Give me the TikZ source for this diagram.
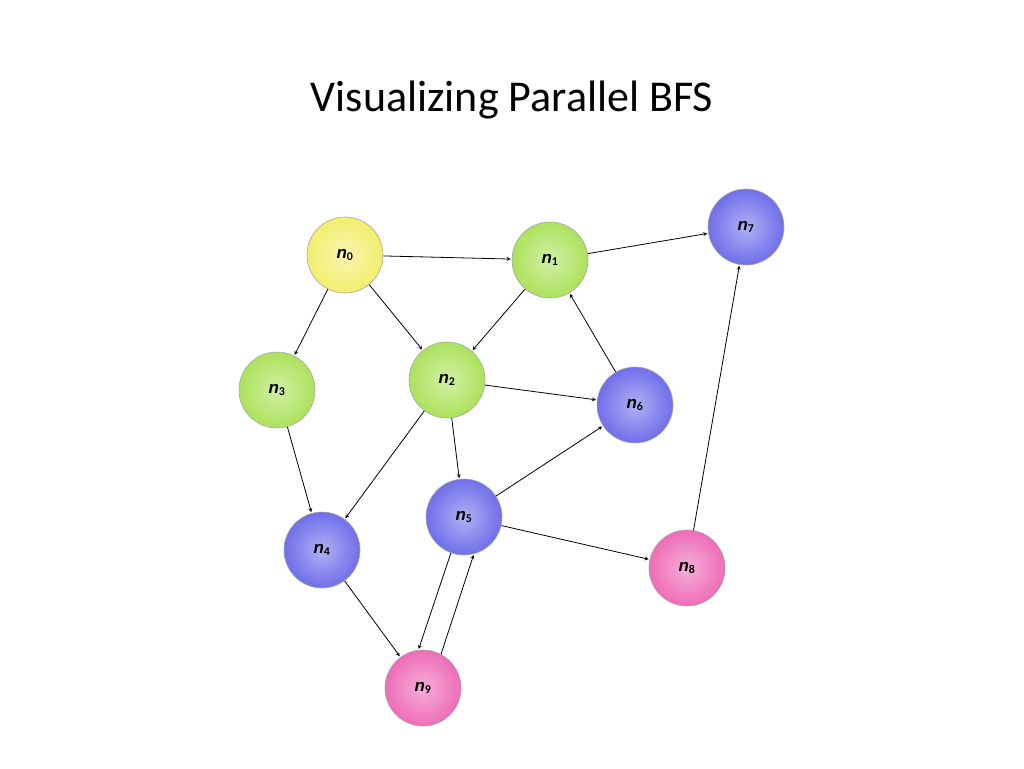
\documentclass[tikz,border=0pt]{standalone}
\usepackage{fontspec}
\setmainfont{Carlito}
\newfontfamily\lbl{Liberation Sans}
\begin{document}
\begin{tikzpicture}[x=1pt,y=-1pt,
  nd/.style={circle,minimum size=76pt,inner sep=0pt,draw=black!35,line width=0.6pt,
    inner color=white!45!#1,outer color=#1,font=\lbl\bfseries\itshape\fontsize{17}{20}\selectfont},
  ar/.style={->,>=stealth,line width=0.8pt,shorten >=1pt}]
\definecolor{cy}{HTML}{F2EE6E}
\definecolor{cg}{HTML}{ACE25C}
\definecolor{cb}{HTML}{6F6FEA}
\definecolor{cp}{HTML}{EE6CB8}
\useasboundingbox (0,0) rectangle (1024,768);
\node[font=\fontsize{44}{50}\selectfont] (t) at (512,100) {Visualizing Parallel BFS};
\node[nd=cy] (n0) at (345,255) {n$_{\mathbf 0}$};
\node[nd=cg] (n1) at (550,260) {n$_{\mathbf 1}$};
\node[nd=cb] (n7) at (746,227) {n$_{\mathbf 7}$};
\node[nd=cg] (n3) at (277,390) {n$_{\mathbf 3}$};
\node[nd=cg] (n2) at (447,380) {n$_{\mathbf 2}$};
\node[nd=cb] (n6) at (635,405) {n$_{\mathbf 6}$};
\node[nd=cb] (n5) at (464,517) {n$_{\mathbf 5}$};
\node[nd=cb] (n4) at (322,550) {n$_{\mathbf 4}$};
\node[nd=cp] (n8) at (687,568) {n$_{\mathbf 8}$};
\node[nd=cp] (n9) at (423,688) {n$_{\mathbf 9}$};
\draw[ar] (n0) -- (n1);
\draw[ar] (n0) -- (n3);
\draw[ar] (n0) -- (n2);
\draw[ar] (n1) -- (n7);
\draw[ar] (n1) -- (n2);
\draw[ar] (n6) -- (n1);
\draw[ar] (n2) -- (n6);
\draw[ar] (n2) -- (n5);
\draw[ar] (n2) -- (n4);
\draw[ar] (n3) -- (n4);
\draw[ar] (n5) -- (n6);
\draw[ar] (n5) -- (n8);
\draw[ar] (n4) -- (n9);
\draw[ar] (n8) -- (n7);
\draw[ar] (n5.250) -- (n9.97);
\draw[ar] (n9.62) -- (n5.285);
\end{tikzpicture}
\end{document}
